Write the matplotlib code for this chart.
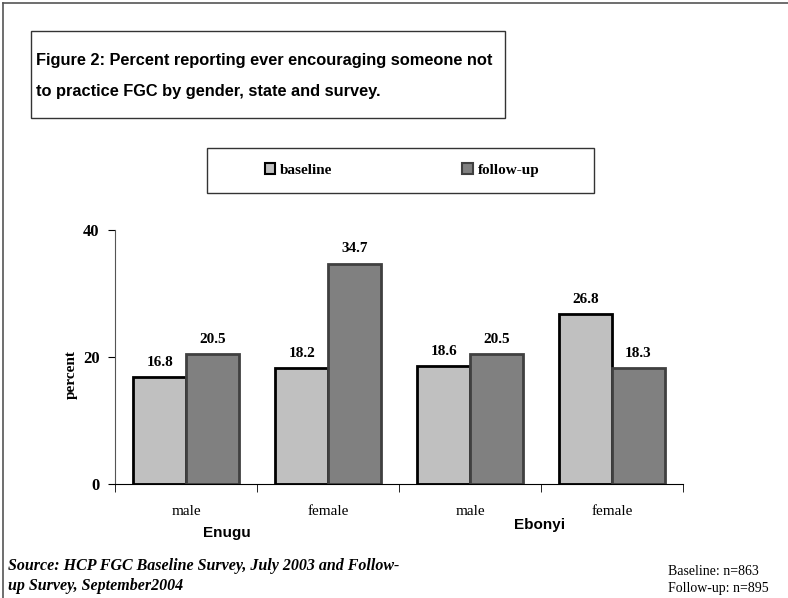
import numpy as np
import matplotlib.pyplot as plt
from matplotlib.patches import Rectangle
from matplotlib.lines import Line2D

# data
groups = ['male', 'female', 'male', 'female']
states = ['Enugu', 'Ebonyi']
baseline = [16.8, 18.2, 18.6, 26.8]
followup = [20.5, 34.7, 20.5, 18.3]
series_names = ['baseline', 'follow-up']
yticks = [0, 20, 40]

serif = 'Liberation Serif'
sans = 'Liberation Sans'

fig = plt.figure(figsize=(7.88, 5.98), dpi=100)
W, H = 788, 598

def fx(px):
    return px / W

def fy(py):
    return 1 - py / H

# outer frame (left and top)
fig.add_artist(Line2D([fx(3), fx(3)], [0, fy(3)], color='#555555', lw=1.2))
fig.add_artist(Line2D([fx(3), 1], [fy(3), fy(3)], color='#555555', lw=1.2))

# title box
fig.add_artist(Rectangle((fx(31), fy(118)), fx(505) - fx(31), fy(31) - fy(118),
                         fill=False, ec='#333333', lw=1.0))
fig.text(fx(36), fy(76), 'Figure 2: Percent reporting ever encouraging someone not\n'
         'to practice FGC by gender, state and survey.',
         family=sans, weight='bold', fontsize=11.8, va='center', ha='left',
         linespacing=2.35)

ax = fig.add_axes([fx(115), fy(484), fx(683) - fx(115), fy(230) - fy(484)])

x = np.arange(len(groups))
w = 0.37
b1 = ax.bar(x - w / 2, baseline, w, color='#c0c0c0', edgecolor='black', lw=2)
b2 = ax.bar(x + w / 2, followup, w, color='#808080', edgecolor='#404040', lw=2)

for bars, vals in [(b1, baseline), (b2, followup)]:
    for r, v in zip(bars, vals):
        ax.text(r.get_x() + r.get_width() / 2, v + 1.3, f'{v:.1f}',
                ha='center', va='bottom', family=serif, weight='bold', fontsize=11)

ax.set_xlim(-0.5, 3.5)
ax.set_ylim(0, 40)
ax.set_yticks(yticks)
ax.set_yticklabels([str(t) for t in yticks], family=serif, weight='bold', fontsize=12)
ax.set_xticks(x)
ax.set_xticklabels(groups, family=serif, fontsize=11)
ax.set_xticks(np.arange(-0.5, 4, 1), minor=True)
ax.tick_params(axis='x', which='major', length=0, pad=15)
ax.tick_params(axis='x', which='minor', length=6, direction='out')
ax.tick_params(axis='y', length=5, direction='out', pad=6)
for s in ['top', 'right']:
    ax.spines[s].set_visible(False)
ax.spines['left'].set_color('#555555')
ax.spines['bottom'].set_color('black')
ax.set_ylabel('percent', family=serif, weight='bold', fontsize=11)
ax.yaxis.set_label_coords(-0.065, 0.43)

fig.text(fx(227), fy(533), states[0], family=sans, weight='bold', fontsize=11,
         ha='center', va='center')
fig.text(fx(540), fy(525), states[1], family=sans, weight='bold', fontsize=11,
         ha='center', va='center')

# legend box
fig.add_artist(Rectangle((fx(207), fy(193)), fx(594) - fx(207), fy(148) - fy(193),
                         fill=False, ec='#333333', lw=1.0))
handles = [Rectangle((0, 0), 1, 1, fc='#c0c0c0', ec='black', lw=1.5),
           Rectangle((0, 0), 1, 1, fc='#808080', ec='#404040', lw=1.5)]
fig.legend(handles, series_names, loc='center', bbox_to_anchor=(fx(402), fy(170)),
           ncol=2, frameon=False, prop={'family': serif, 'weight': 'bold', 'size': 11},
           handlelength=0.7, handleheight=0.7, handletextpad=0.3, columnspacing=8.5)

# footnotes
fig.text(fx(8), fy(576), 'Source: HCP FGC Baseline Survey, July 2003 and Follow-\n'
         'up Survey, September2004', family=serif, style='italic', weight='bold',
         fontsize=11.5, ha='left', va='center', linespacing=1.3)
fig.text(fx(668), fy(580), 'Baseline: n=863\nFollow-up: n=895', family=serif,
         fontsize=10, ha='left', va='center', linespacing=1.4)

fig.savefig('out.png', dpi=100)
